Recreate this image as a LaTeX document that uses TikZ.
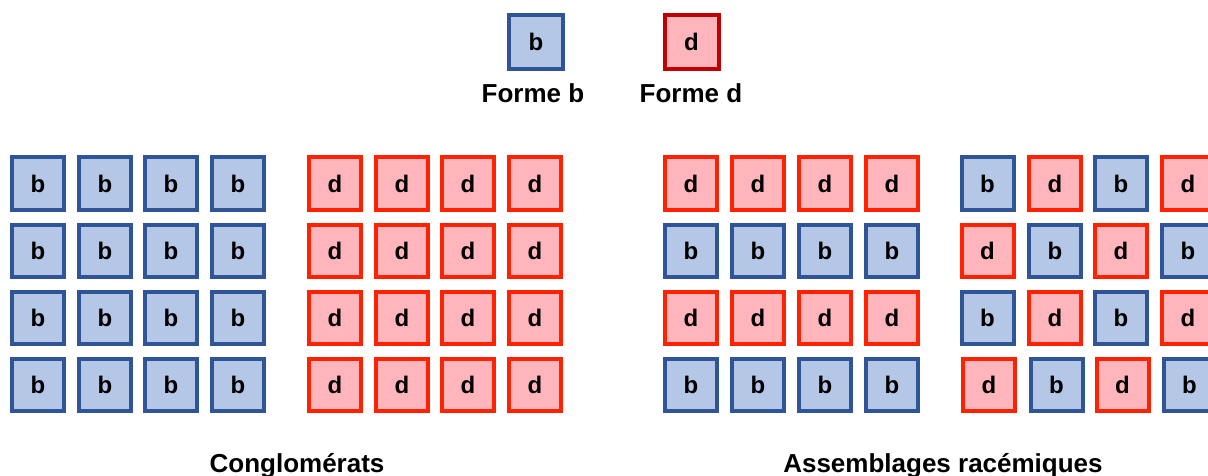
\documentclass[tikz,border=0pt]{standalone}
\usepackage{fontspec}
\setmainfont{Liberation Sans}
\definecolor{bfill}{HTML}{B4C7E7}
\definecolor{bdraw}{HTML}{2F5597}
\definecolor{dfill}{HTML}{FFB5BB}
\definecolor{ddraw}{HTML}{FF2200}
\definecolor{ddark}{HTML}{C00000}
\tikzset{
  boxb/.style={draw=bdraw, fill=bfill, line width=4pt, minimum width=52pt, minimum height=52pt, inner sep=0pt, font=\fontsize{24}{26}\selectfont\bfseries},
  boxd/.style={draw=ddraw, fill=dfill, line width=4pt, minimum width=52pt, minimum height=52pt, inner sep=0pt, font=\fontsize{24}{26}\selectfont\bfseries},
  lbl/.style={anchor=base, inner sep=0pt, font=\fontsize{26}{28}\selectfont\bfseries}
}
\begin{document}
\begin{tikzpicture}[x=1pt,y=-1pt]
\useasboundingbox (0,0) rectangle (1208,476);
% legend
\node[boxb, minimum width=54pt, minimum height=54pt] (legb) at (536,42) {b};
\node[boxd, draw=ddark, minimum width=54pt, minimum height=54pt] (legd) at (691.5,42) {d};
\node[lbl] (lblb) at (533,103) {Forme b};
\node[lbl] (lbld) at (691,103) {Forme d};
% Conglomerats
\foreach \r/\y in {1/183.5,2/251,3/318,4/385}{
  \foreach \c/\x in {1/38,2/105,3/171,4/238}{
    \node[boxb] (cb-\r-\c) at (\x,\y) {b};
  }
  \foreach \c/\x in {1/335,2/402,3/468,4/535}{
    \node[boxd] (cd-\r-\c) at (\x,\y) {d};
  }
}
% Assemblages racemiques, group 1
\foreach \r/\y/\t in {1/183.5/d,2/251/b,3/318/d,4/385/b}{
  \foreach \c/\x in {1/691,2/758,3/825,4/892}{
    \node[box\t] (ra-\r-\c) at (\x,\y) {\t};
  }
}
% group 2
\foreach \r/\y/\ta/\tb/\xs in {1/183.5/b/d/0,2/251/d/b/0,3/318/b/d/0,4/385/d/b/1.5}{
  \node[box\ta] (rb-\r-1) at (987.5+\xs,\y) {\ta};
  \node[box\tb] (rb-\r-2) at (1055+\xs,\y) {\tb};
  \node[box\ta] (rb-\r-3) at (1121+\xs,\y) {\ta};
  \node[box\tb] (rb-\r-4) at (1188+\xs,\y) {\tb};
}
\node[lbl] (tc) at (297,472) {Conglomérats};
\node[lbl] (tr) at (943,472) {Assemblages racémiques};
\end{tikzpicture}
\end{document}
